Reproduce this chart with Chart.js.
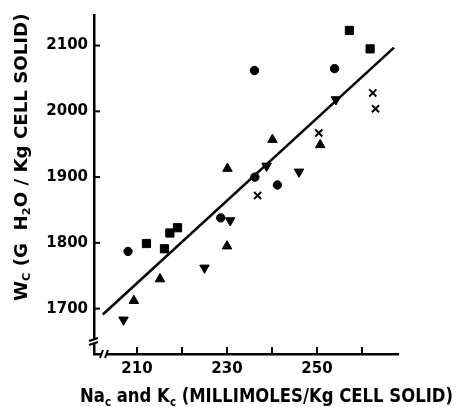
<!DOCTYPE html>
<html>
<head>
<meta charset="utf-8">
<script src="https://cdn.jsdelivr.net/npm/chart.js@4"></script>
<style>
html, body { margin: 0; padding: 0; background: #fff; }
#wrap { position: relative; width: 456px; height: 407px; }
#chart { position: absolute; left: 0; top: 0; }
.title { position: absolute; font-family: "DejaVu Sans"; font-weight: bold; white-space: nowrap; color: #000; transform-origin: 0 0; line-height: 1; }
.title sub { font-size: 62%; vertical-align: -0.3em; }
</style>
</head>
<body>
<div id="wrap">
  <canvas id="chart" width="456" height="407"></canvas>
  <div id="xTitle" class="title" style="left:80px;top:386px;font-size:19px;">Na<sub>c</sub> and K<sub>c</sub> (MILLIMOLES/Kg CELL SOLID)</div>
  <div id="yTitle" class="title" style="left:12px;top:301px;font-size:18px;">W<sub>C</sub> (G&nbsp; H<sub>2</sub>O / Kg CELL SOLID)</div>
</div>
<script>
// valeurs
const circleX = [208.0, 236.1, 253.9, 228.6, 236.2, 241.2];
const circleY = [1787, 2062, 2065, 1838, 1900, 1888];
const squareX = [212.1, 216.1, 217.3, 219.0, 257.2, 261.8];
const squareY = [1799, 1791, 1815, 1823, 2123, 2095];
const triUpX = [209.3, 215.1, 230.0, 230.1, 240.1, 250.7];
const triUpY = [1712, 1745, 1795, 1913, 1957, 1949];
const triDownX = [207.0, 225.0, 230.7, 238.8, 246.0, 254.2];
const triDownY = [1683, 1762, 1834, 1917, 1908, 2018];
const crossX = [236.8, 250.4, 262.4, 263.0];
const crossY = [1872, 1967, 2028, 2004];
const lineX = [202.4, 267.1];
const lineY = [1691, 2097];

const xTicks = [210, 220, 230, 240, 250, 260];
const xLabels = [210, 230, 250];
const yTicks = [1700, 1800, 1900, 2000, 2100];

function pts(xs, ys) {
    return xs.map((x, i) => ({ x: x, y: ys[i] }));
}

function fitTitle(id, width, rotate) {
    const el = document.getElementById(id);
    const s = width / el.offsetWidth;
    el.style.transform = (rotate ? "rotate(-90deg) " : "") + "scaleX(" + s + ")";
}
fitTitle("xTitle", 373, false);
fitTitle("yTitle", 288, true);

// petits traits vers l'intérieur + coupures d'axes
const axisDeco = {
    id: "axisDeco",
    afterDraw(chart) {
        const ctx = chart.ctx;
        const a = chart.chartArea;
        const xs = chart.scales.x;
        const ys = chart.scales.y;
        ctx.save();
        ctx.strokeStyle = "#000";
        ctx.lineWidth = 2;
        xTicks.forEach((v) => {
            const px = xs.getPixelForValue(v);
            ctx.beginPath();
            ctx.moveTo(px, a.bottom);
            ctx.lineTo(px, a.bottom - 7);
            ctx.stroke();
        });
        yTicks.forEach((v) => {
            const py = ys.getPixelForValue(v);
            ctx.beginPath();
            ctx.moveTo(a.left, py);
            ctx.lineTo(a.left + 6, py);
            ctx.stroke();
        });
        // coupure axe y
        const yb = a.bottom - 12;
        ctx.fillStyle = "#fff";
        ctx.fillRect(a.left - 3, yb - 2, 6, 4);
        ctx.beginPath();
        ctx.moveTo(a.left - 5, yb - 1);
        ctx.lineTo(a.left + 4, yb - 4);
        ctx.moveTo(a.left - 5, yb + 3);
        ctx.lineTo(a.left + 4, yb);
        ctx.stroke();
        // coupure axe x
        const xb = a.left + 10;
        ctx.fillRect(xb - 3, a.bottom - 3, 6, 6);
        ctx.beginPath();
        ctx.moveTo(xb - 4, a.bottom + 4);
        ctx.lineTo(xb - 1, a.bottom - 4);
        ctx.moveTo(xb + 1, a.bottom + 4);
        ctx.lineTo(xb + 4, a.bottom - 4);
        ctx.stroke();
        ctx.restore();
    },
};

const mark = { backgroundColor: "#000", borderColor: "#000", borderWidth: 1 };

new Chart(document.getElementById("chart").getContext("2d"), {
    type: "scatter",
    data: {
        datasets: [
            { ...mark, data: pts(circleX, circleY), pointStyle: "circle", pointRadius: 4.2 },
            { ...mark, data: pts(squareX, squareY), pointStyle: "rect", pointRadius: 5.8 },
            { ...mark, data: pts(triUpX, triUpY), pointStyle: "triangle", pointRadius: 5.5 },
            { ...mark, data: pts(triDownX, triDownY), pointStyle: "triangle", rotation: 180, pointRadius: 5.5 },
            { ...mark, data: pts(crossX, crossY), pointStyle: "crossRot", pointRadius: 5, borderWidth: 2 },
            {
                data: pts(lineX, lineY),
                showLine: true,
                borderColor: "#000",
                borderWidth: 2.5,
                pointRadius: 0,
                fill: false,
            },
        ],
    },
    options: {
        responsive: false,
        animation: false,
        events: [],
        layout: { padding: { left: 0, top: 10, right: 58, bottom: 0 } },
        plugins: { legend: { display: false }, tooltip: { enabled: false } },
        scales: {
            x: {
                type: "linear",
                min: 200.44,
                max: 268,
                afterBuildTicks: (s) => { s.ticks = xTicks.map((v) => ({ value: v })); },
                afterFit: (s) => { s.height = 53; },
                grid: { display: false, drawTicks: false },
                border: { display: true, color: "#000", width: 2.5 },
                ticks: {
                    padding: 6,
                    color: "#000",
                    font: { family: "DejaVu Sans", weight: "bold", size: 15 },
                    maxRotation: 0,
                    autoSkip: false,
                    callback: (v) => (xLabels.includes(v) ? String(v) : ""),
                },
            },
            y: {
                min: 1631,
                max: 2146.5,
                afterBuildTicks: (s) => { s.ticks = yTicks.map((v) => ({ value: v })); },
                afterFit: (s) => { s.width = 94; },
                grid: { display: false, drawTicks: false },
                border: { display: true, color: "#000", width: 2.5 },
                ticks: {
                    padding: 6,
                    color: "#000",
                    font: { family: "DejaVu Sans", weight: "bold", size: 15 },
                    callback: (v) => String(v),
                },
            },
        },
    },
    plugins: [axisDeco],
});
</script>
</body>
</html>
